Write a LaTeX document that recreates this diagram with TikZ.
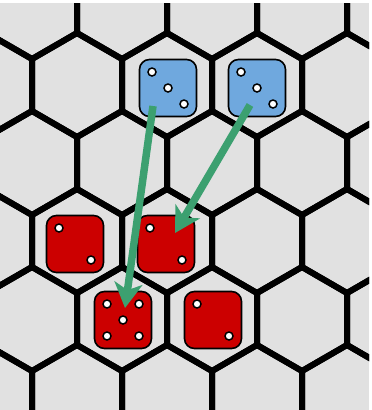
\documentclass[tikz,border=0pt]{standalone}
\usetikzlibrary{arrows.meta, calc}

\definecolor{boardgray}{RGB}{225,225,225}
\definecolor{dieblue}{RGB}{111,168,222}
\definecolor{diered}{RGB}{204,0,0}
\definecolor{movegreen}{RGB}{60,160,112}

\begin{document}
\begin{tikzpicture}[
    x=1pt, y=-1pt,
    cell/.style={draw=black, line width=6pt},
    die/.style={rectangle, draw=black, line width=1.6pt, rounded corners=10pt, minimum width=57pt, minimum height=57pt, inner sep=0pt},
    bluedie/.style={die, fill=dieblue},
    reddie/.style={die, fill=diered},
    pip/.style={fill=white, draw=black, line width=1.5pt},
    move/.style={-{Stealth[length=25pt, width=28pt, inset=7pt]}, line width=7.5pt, draw=movegreen}
]

% Frame
\useasboundingbox (0,0) rectangle (372,410);
\fill[white] (0,0) rectangle (372,410);

% Hex board (rows every 78, columns every 90, odd rows shifted)
\begin{scope}
    \clip (0,3) rectangle (369,410);
    \fill[boardgray] (0,3) rectangle (369,410);
    \foreach \k in {-1,0,1,2,3,4} {
        \pgfmathsetmacro{\cy}{85+78*\k}
        \pgfmathsetmacro{\off}{32+45*mod(\k+3,2)}
        \foreach \m in {-1,0,1,2,3,4} {
            \pgfmathsetmacro{\cx}{\off+90*\m}
            \draw[cell] (\cx,\cy-52) -- ++(45,26) -- ++(0,52) -- ++(-45,26) -- ++(-45,-26) -- ++(0,-52) -- cycle;
        }
    }
\end{scope}

% Blue dice
\node[bluedie] (blueA) at (168,88) {};
\node[bluedie] (blueB) at (257,88) {};

% Red dice
\node[reddie] (redA) at (75,244) {};
\node[reddie] (redB) at (166,244) {};
\node[reddie] (redC) at (123,320) {};
\node[reddie] (redD) at (213,320) {};

% Pips
\foreach \d in {blueA, blueB}
    \foreach \dx/\dy in {-16/-16, 0/0, 16/16}
        \draw[pip] ($(\d)+(\dx,\dy)$) circle (4pt);
\foreach \d in {redA, redB, redD}
    \foreach \dx/\dy in {-16/-16, 16/16}
        \draw[pip] ($(\d)+(\dx,\dy)$) circle (4pt);
\foreach \dx/\dy in {-16/-16, 16/-16, 0/0, -16/16, 16/16}
    \draw[pip] ($(redC)+(\dx,\dy)$) circle (4pt);

% Moves
\coordinate (fromA) at ($(blueA)+(-15,18)$);
\coordinate (toC) at ($(redC)+(2,-12)$);
\coordinate (fromB) at ($(blueB)+(-7,17)$);
\coordinate (toB) at ($(redB)+(9,-11)$);
\draw[move] (fromA) -- (toC);
\draw[move] (fromB) -- (toB);

\end{tikzpicture}
\end{document}
